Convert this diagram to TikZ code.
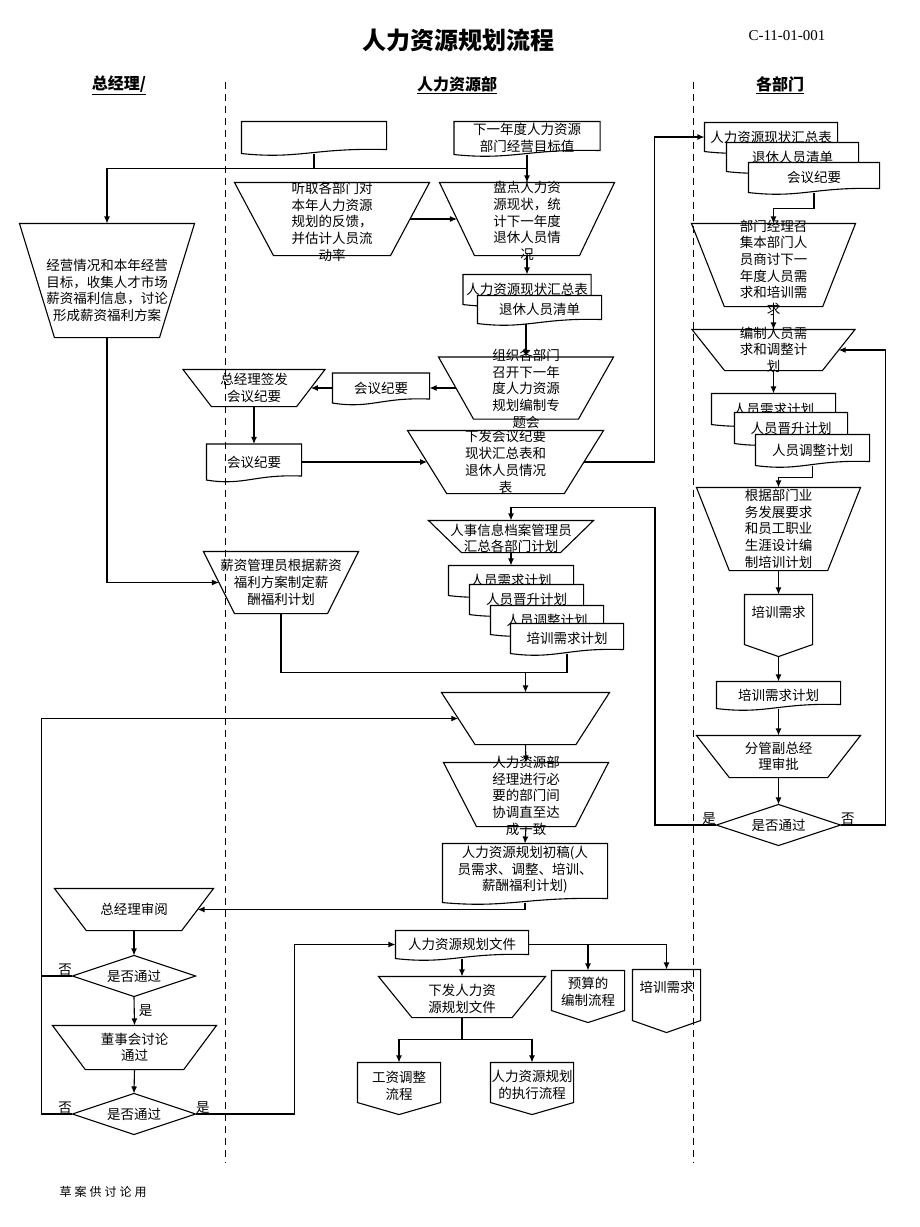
\documentclass[tikz,border=0pt]{standalone}
\usepackage{fontspec}
\setmainfont{Liberation Serif}
\newfontfamily\zh{Noto Sans CJK SC}
\newfontfamily\zhs[LetterSpace=25]{Noto Sans CJK SC}
\usetikzlibrary{calc,arrows.meta}
\newcommand\tb[3][0pt]{\raisebox{\dimexpr#1-3.4pt\relax}[0pt][0pt]{\parbox[c][0pt][c]{#2pt}{\centering #3}}}
\newcommand\docdraw[2][]{\draw[#1] (#2.south west) -- (#2.north west) -- (#2.north east) -- ($(#2.south east)+(0,-4)$) .. controls ($(#2.south west)!0.5!(#2.south east)+(0,-6)$) and ($(#2.south west)!0.4!(#2.south east)+(0,6)$) .. (#2.south west) -- cycle;}
\begin{document}
\begin{tikzpicture}
[x=1pt,y=-1pt,line width=1.1pt,
every node/.style={font=\zh\fontsize{13.5}{16.7}\selectfont,inner sep=0pt},
sz/.style 2 args={minimum width=#1pt,minimum height=#2pt},
manual/.style={append after command={\pgfextra{\draw (\tikzlastnode.north west) -- (\tikzlastnode.north east) -- ($(\tikzlastnode.south east)!0.2!(\tikzlastnode.south west)$) -- ($(\tikzlastnode.south west)!0.2!(\tikzlastnode.south east)$) -- cycle;}}},
doc/.style={append after command={\pgfextra{\docdraw{\tikzlastnode}}}},
sdoc/.style={append after command={\pgfextra{\docdraw[fill=white]{\tikzlastnode}}}},
choice/.style={append after command={\pgfextra{\draw (\tikzlastnode.north) -- (\tikzlastnode.east) -- (\tikzlastnode.south) -- (\tikzlastnode.west) -- cycle;}}},
offpage/.style={append after command={\pgfextra{\draw (\tikzlastnode.north west) -- (\tikzlastnode.north east) -- ($(\tikzlastnode.south east)+(0,-12)$) -- (\tikzlastnode.south) -- ($(\tikzlastnode.south west)+(0,-12)$) -- cycle;}}},
arr/.style={-{Latex[length=7pt,width=6pt]}},
lane/.style={line width=1pt,dash pattern=on 7pt off 5pt}]
\useasboundingbox (0,0) rectangle (920,1227);
\draw[lane] (225,82) -- (225,1163);
\draw[lane] (693,82) -- (693,1163);
\node[font=\zh\bfseries\fontsize{24}{28}\selectfont] (title) at (458,40) {人力资源规划流程};
\node[font=\fontsize{15}{18}\selectfont] (code) at (787,36) {C-11-01-001};
\node[font=\zh\bfseries\fontsize{16}{19}\selectfont] (lanegm) at (119,85) {\underline{总经理/}};
\node[font=\zh\bfseries\fontsize{16}{19}\selectfont] (lanehr) at (457,85) {\underline{人力资源部}};
\node[font=\zh\bfseries\fontsize{16}{19}\selectfont] (lanedept) at (780,85) {\underline{各部门}};
\node[doc,sz={144}{31}] (blank) at (314,137.5) {};
\node[doc,sz={145}{32}] (target) at (527,138) {\tb{145}{下一年度人力资源\\部门经营目标值}};
\node[manual,sz={174}{113}] (biz) at (107,280.5) {\tb[-10pt]{174}{经营情况和本年经营\\目标，收集人才市场\\薪资福利信息，讨论\\形成薪资福利方案}};
\node[manual,sz={194}{72}] (hear) at (332,219) {\tb[-3pt]{194}{听取各部门对\\本年人力资源\\规划的反馈，\\并估计人员流\\动率}};
\node[manual,sz={174}{72}] (count) at (527,219) {\tb[-2pt]{174}{盘点人力资\\源现状，统\\计下一年度\\退休人员情\\况}};
\node[sdoc,sz={127}{29}] (sum1) at (527,289.5) {};
\node (sum1t) at (sum1) {人力资源现状汇总表};
\node[sdoc,sz={123}{27}] (ret1) at (539.5,309.5) {};
\node (ret1t) at (ret1) {退休人员清单};
\node[manual,sz={174}{61}] (org) at (526,388) {\tb[-1pt]{174}{组织各部门\\召开下一年\\度人力资源\\规划编制专\\题会}};
\node[doc,sz={96}{29}] (mtg1) at (381,388) {会议纪要};
\node[manual,sz={141}{36}] (gmsign) at (254,388) {\tb{141}{总经理签发\\会议纪要}};
\node[doc,sz={94}{35}] (mtg2) at (254,462) {会议纪要};
\node[manual,sz={195}{62}] (issue) at (505.5,462) {\tb{195}{下发会议纪要\\现状汇总表和\\退休人员情况\\表}};
\node[sdoc,sz={132}{28}] (rs1) at (771,137) {};
\node (rs1t) at (rs1) {人力资源现状汇总表};
\node[sdoc,sz={131}{28}] (rs2) at (792.5,157) {};
\node (rs2t) at (rs2) {退休人员清单};
\node[sdoc,sz={130}{29}] (rs3) at (814,177.5) {};
\node (rs3t) at (rs3) {会议纪要};
\node[manual,sz={163}{82}] (deptmeet) at (773.5,265) {\tb[-3pt]{163}{部门经理召\\集本部门人\\员商讨下一\\年度人员需\\求和培训需\\求}};
\node[manual,sz={162}{40}] (compile) at (773.5,350) {\tb{162}{编制人员需\\求和调整计\\划}};
\node[sdoc,sz={123}{30}] (rp1) at (773.5,409) {};
\node (rp1t) at (rp1) {人员需求计划};
\node[sdoc,sz={112}{30}] (rp2) at (791,428) {};
\node (rp2t) at (rp2) {人员晋升计划};
\node[sdoc,sz={113}{30}] (rp3) at (812.5,450) {};
\node (rp3t) at (rp3) {人员调整计划};
\node[manual,sz={163}{82}] (training) at (778.5,529) {\tb{163}{根据部门业\\务发展要求\\和员工职业\\生涯设计编\\制培训计划}};
\node[offpage,sz={67}{61}] (trneed) at (778.5,625.5) {\tb[13pt]{67}{培训需求}};
\node[doc,sz={123}{26}] (trainplan) at (778.5,695) {培训需求计划};
\node[manual,sz={163}{41}] (vp) at (778.5,756.5) {\tb{163}{分管副总经\\理审批}};
\node[choice,sz={123}{40}] (vpok) at (778.5,825) {是否通过};
\node[manual,sz={164}{31}] (records) at (511,536.5) {\tb[-2pt]{164}{人事信息档案管理员\\汇总各部门计划}};
\node[sdoc,sz={124}{29}] (mp1) at (511,580.5) {};
\node (mp1t) at (mp1) {人员需求计划};
\node[sdoc,sz={113}{29}] (mp2) at (526.5,599.5) {};
\node (mp2t) at (mp2) {人员晋升计划};
\node[sdoc,sz={112}{28}] (mp3) at (547,620) {};
\node (mp3t) at (mp3) {人员调整计划};
\node[sdoc,sz={112}{29}] (mp4) at (567,638.5) {};
\node (mp4t) at (mp4) {培训需求计划};
\node[manual,sz={154}{61}] (salary) at (281,582.5) {\tb{154}{薪资管理员根据薪资\\福利方案制定薪\\酬福利计划}};
\node[manual,sz={167}{51}] (blanktz) at (525.5,718.5) {};
\node[manual,sz={164}{63}] (coord) at (526,794.5) {\tb[-1.5pt]{164}{人力资源部\\经理进行必\\要的部门间\\协调直至达\\成一致}};
\node[doc,sz={164}{58}] (draft) at (525,873) {\tb[3pt]{164}{人力资源规划初稿(人\\员需求、调整、培训、\\薪酬福利计划)}};
\node[manual,sz={158}{41}] (review) at (134,909.5) {总经理审阅};
\node[choice,sz={122}{40}] (ok1) at (134,976) {是否通过};
\node[manual,sz={163}{43}] (board) at (134.5,1047.5) {\tb{163}{董事会讨论\\通过}};
\node[choice,sz={122}{40}] (ok2) at (134,1114) {是否通过};
\node[doc,sz={132}{27}] (hrfile) at (462,944.5) {人力资源规划文件};
\node[manual,sz={166}{40}] (issuefile) at (462,997) {\tb[-2pt]{166}{下发人力资\\源规划文件}};
\node[offpage,sz={72}{51}] (budget) at (588,996.5) {\tb[4.5pt]{72}{预算的\\编制流程}};
\node[offpage,sz={67}{62}] (trneed2) at (666.5,1001) {\tb[13pt]{67}{培训需求}};
\node[offpage,sz={82}{51}] (wage) at (399,1088.5) {\tb[2.5pt]{82}{工资调整\\流程}};
\node[offpage,sz={82}{51}] (exec) at (532,1088.5) {\tb[3.5pt]{82}{人力资源规划\\的执行流程}};
\node[font=\zhs\fontsize{12}{14}\selectfont] (note) at (103,1192) {草案供讨论用};
\draw (blank.south) -- ++(0,15) -| (target.south);
\draw[arr] ($(blank.south)+(0,15)$) -| (biz.north);
\draw[arr] (target.south) -- (count.north);
\draw[arr] ($(hear.west)!0.9!(hear.east)$) -- ($(count.west)!0.1!(count.east)$);
\draw[arr] (count.south) -- (sum1.north);
\draw[arr] (ret1.south -| org.north) -- (org.north);
\draw[arr] ($(org.west)!0.1!(org.east)$) -- (mtg1.east);
\draw[arr] (mtg1.west) -- ($(gmsign.west)!0.9!(gmsign.east)$);
\draw[arr] (gmsign.south) -- (mtg2.north);
\draw[arr] (mtg2.east) -- ($(issue.west)!0.1!(issue.east)$);
\draw[arr] ($(issue.west)!0.9!(issue.east)$) -| ($(rs1.west)+(-50,0)$) -- (rs1.west);
\draw[arr] (rs3.south) -- ++(0,16) -| (deptmeet.north);
\draw[arr] (deptmeet.south) -- (compile.north);
\draw[arr] (compile.south) -- (rp1.north);
\draw[arr] (rp3.south) -- ++(0,12) -| (training.north);
\draw[arr] (training.south) -- (trneed.north);
\draw[arr] (trneed.south) -- (trainplan.north);
\draw[arr] (trainplan.south) -- (vp.north);
\draw[arr] (vp.south) -- (vpok.north);
\draw[arr] (vpok.west) node[anchor=south east] (yes1) {是} -| ($(records.north)+(144,-13)$) -| (records.north);
\draw[arr] (vpok.east) node[anchor=south west] (no1) {否} -| ($(compile.east)+(30,0)$) -- ($(compile.west)!0.9!(compile.east)$);
\draw[arr] (records.south) -- (mp1.north);
\draw[arr] (salary.south) |- ($(blanktz.north)+(0,-20)$) -- (blanktz.north);
\draw (mp4.south) |- ($(blanktz.north)+(0,-20)$);
\draw[arr] (biz.south) |- ($(salary.west)!0.1!(salary.east)$);
\draw[arr] (blanktz.south) -- (coord.north);
\draw[arr] (coord.south) -- (draft.north);
\draw[arr] (draft.south) |- ($(review.west)!0.9!(review.east)$);
\draw[arr] (review.south) -- (ok1.north);
\draw[arr] (ok1.south) -- node[right=4pt] (yes2) {是} (board.north);
\draw (ok1.west) node[anchor=south east] (no2) {否} -- ++(-31,0);
\draw[arr] (board.south) -- (ok2.north);
\draw[arr] (ok2.west) node[anchor=south east] (no3) {否} -- ++(-31,0) |- ($(blanktz.west)!0.1!(blanktz.east)$);
\draw[arr] (ok2.east) node[anchor=south west] (yes3) {是} -| ($(hrfile.west)+(-101,0)$) -- (hrfile.west);
\draw (hrfile.east) -- (hrfile.east -| trneed2.north);
\draw[arr] (hrfile.east -| budget.north) -- (budget.north);
\draw[arr] (hrfile.east -| trneed2.north) -- (trneed2.north);
\draw[arr] (hrfile.south) -- (issuefile.north);
\draw[arr] (issuefile.south) -- ++(0,22) -| (wage.north);
\draw[arr] ($(issuefile.south)+(0,22)$) -| (exec.north);
\end{tikzpicture}
\end{document}
